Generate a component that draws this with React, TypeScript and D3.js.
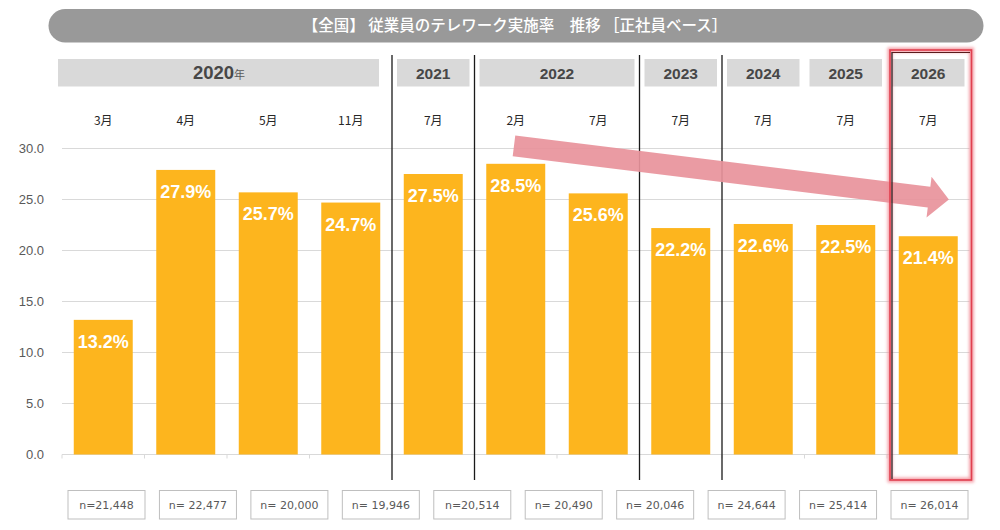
import * as d3 from "d3";

// survey periods (one bar each)
const periods = [
  "2020-03", "2020-04", "2020-05", "2020-11", "2021-07",
  "2022-02", "2022-07", "2023-07", "2024-07", "2025-07", "2026-07",
];
const monthLabels = ["3月", "4月", "5月", "11月", "7月", "2月", "7月", "7月", "7月", "7月", "7月"];
const rates = [13.2, 27.9, 25.7, 24.7, 27.5, 28.5, 25.6, 22.2, 22.6, 22.5, 21.4];

// year header groups
const years = ["2020", "2021", "2022", "2023", "2024", "2025", "2026"];
const yearSpans = [4, 1, 2, 1, 1, 1, 1];
const dividersBefore = ["2021-07", "2022-02", "2023-07", "2024-07"];
const highlightPeriod = "2026-07";

// sample sizes under the chart
const sampleSizes = [
  "n=21,448", "n= 22,477", "n= 20,000", "n= 19,946", "n=20,514",
  "n= 20,490", "n= 20,046", "n= 24,644", "n= 25,414", "n= 26,014",
];

const yTicks = [0, 5, 10, 15, 20, 25, 30];

const title = "【全国】 従業員のテレワーク実施率　推移 ［正社員ベース］";

const W = 1000;
const H = 530;
const plotLeft = 62;
const plotRight = 969.5;
const plotTop = 148.5;
const plotBottom = 454.5;
const jp = "'Noto Sans CJK JP', 'Noto Sans', sans-serif";
const latin = "'Liberation Sans', Arial, sans-serif";

export default function App() {
  const x = d3
    .scaleBand<string>()
    .domain(periods)
    .range([plotLeft, plotRight])
    .paddingInner(0.285)
    .paddingOuter(0.1425);
  const step = x.step();
  const gap = step * x.paddingInner();
  const bandStart = (p: string) => x(p)! - gap / 2;

  const y = d3.scaleLinear().domain([0, 30]).range([plotBottom, plotTop]);

  const nx = d3.scalePoint<string>().domain(sampleSizes).range([106.5, 929.5]);

  // year groups built from spans
  const starts = d3.cumsum([0, ...yearSpans.slice(0, -1)]);
  const groups = years.map((yr, i) => {
    const first = periods[starts[i]];
    const last = periods[starts[i] + yearSpans[i] - 1];
    return { yr, x0: bandStart(first), x1: bandStart(last) + step, wide: yearSpans[i] > 2 };
  });

  // trend arrow from 2022 peak to 2026
  const ax0 = x("2022-02")! + x.bandwidth() * 0.47;
  const ay0 = y(30.25);
  const ax1 = x("2026-07")! + x.bandwidth() * 0.85;
  const ay1 = y(25.0);
  const len = Math.hypot(ax1 - ax0, ay1 - ay0);
  const ang = (Math.atan2(ay1 - ay0, ax1 - ax0) * 180) / Math.PI;
  const sw = 10.5;
  const hw = 20.5;
  const hl = 20;
  const arrowPts = [
    [0, -sw], [len - hl, -sw], [len - hl, -hw], [len, 0],
    [len - hl, hw], [len - hl, sw], [0, sw],
  ]
    .map((p) => p.join(","))
    .join(" ");

  const hx0 = bandStart(highlightPeriod) + 3;
  const hx1 = bandStart(highlightPeriod) + step + 2;

  return (
    <div style={{ position: "absolute", left: 0, top: 0, background: "#fff" }}>
      <svg width={W} height={H} style={{ display: "block" }}>
        <defs>
          <filter id="glow" x="-20%" y="-5%" width="140%" height="110%">
            <feGaussianBlur stdDeviation="1.8" />
          </filter>
        </defs>
        <rect width={W} height={H} fill="#fff" />

        {/* title pill */}
        <rect x={48.5} y={9} width={935} height={33.5} rx={16.75} fill="#999999" />
        <text
          x={515}
          y={26}
          dy="0.35em"
          textAnchor="middle"
          fill="#fff"
          fontSize={15.5}
          fontWeight={500}
          fontFamily={jp}
          style={{ whiteSpace: "pre" }}
        >
          {title}
        </text>

        {/* year headers */}
        {groups.map((g) => (
          <g key={g.yr}>
            <rect
              x={g.x0 + (g.wide ? -4 : 5)}
              y={59}
              width={g.x1 - g.x0 - (g.wide ? 9 : 10)}
              height={27.5}
              fill="#d9d9d9"
            />
            <text
              x={(g.x0 + g.x1) / 2 + (g.wide ? -8 : 0)}
              y={73}
              dy="0.36em"
              textAnchor="middle"
              fill="#474747"
              fontFamily={latin}
            >
              <tspan fontSize={g.wide ? 18.5 : 15.5} fontWeight="bold">{g.yr}</tspan>
              {g.wide && (
                <tspan fontSize={11} fontFamily={jp} fill="#595959">年</tspan>
              )}
            </text>
          </g>
        ))}

        {/* month labels */}
        {periods.map((p, i) => (
          <text
            key={p}
            x={x(p)! + x.bandwidth() / 2}
            y={121}
            dy="0.35em"
            textAnchor="middle"
            fontSize={12}
            fill="#262626"
            fontFamily={jp}
          >
            {monthLabels[i]}
          </text>
        ))}

        {/* grid + y axis labels */}
        {yTicks.map((t) => (
          <g key={t}>
            <line x1={plotLeft} x2={plotRight} y1={y(t)} y2={y(t)} stroke="#d9d9d9" strokeWidth={1} />
            <text
              x={44}
              y={y(t)}
              dy="0.35em"
              textAnchor="end"
              fontSize={13}
              fill="#595959"
              fontFamily={latin}
            >
              {t.toFixed(1)}
            </text>
          </g>
        ))}
        {/* category tick marks */}
        {[...periods.map(bandStart), plotRight].map((tx, i) => (
          <line key={i} x1={tx} x2={tx} y1={plotBottom} y2={plotBottom + 4} stroke="#d9d9d9" />
        ))}

        {/* bars */}
        {periods.map((p, i) => (
          <rect
            key={p}
            x={x(p)}
            y={y(rates[i])}
            width={x.bandwidth()}
            height={y(0) - y(rates[i])}
            fill="#fdb51e"
          />
        ))}
        {periods.map((p, i) => (
          <text
            key={p}
            x={x(p)! + x.bandwidth() / 2}
            y={y(rates[i]) + 28}
            textAnchor="middle"
            fontSize={18}
            fontWeight="bold"
            fill="#fff"
            fontFamily={latin}
          >
            {rates[i].toFixed(1)}%
          </text>
        ))}

        {/* year dividers */}
        {dividersBefore.map((p) => (
          <line
            key={p}
            x1={bandStart(p)}
            x2={bandStart(p)}
            y1={55}
            y2={480}
            stroke="#1a1a1a"
            strokeWidth={1.3}
          />
        ))}

        {/* trend arrow */}
        <polygon
          points={arrowPts}
          transform={`translate(${ax0},${ay0}) rotate(${ang})`}
          fill="#e8939b"
          opacity={0.92}
        />

        {/* highlight box for 2026 */}
        <rect
          x={hx0}
          y={50}
          width={hx1 - hx0}
          height={430}
          fill="none"
          stroke="#f28a94"
          strokeWidth={5}
          filter="url(#glow)"
          opacity={0.8}
        />
        <rect x={hx0} y={50} width={hx1 - hx0} height={430} fill="none" stroke="#e0404f" strokeWidth={1.6} />
        <line x1={hx0 + 2} x2={hx0 + 2} y1={52} y2={479} stroke="#1a1a1a" strokeWidth={1.2} />
        <line x1={hx0 + 2} x2={hx1 - 1.5} y1={52.5} y2={52.5} stroke="#5a1a1a" strokeWidth={1} />

        {/* sample size boxes */}
        {sampleSizes.map((s) => (
          <g key={s}>
            <rect
              x={nx(s)! - 38.5}
              y={490.5}
              width={77}
              height={28.5}
              fill="#fff"
              stroke="#bfbfbf"
              strokeWidth={1}
            />
            <text
              x={nx(s)}
              y={505}
              dy="0.35em"
              textAnchor="middle"
              fontSize={11}
              fill="#595959"
              fontFamily="'DejaVu Sans', Verdana, sans-serif"
            >
              {s}
            </text>
          </g>
        ))}
      </svg>
    </div>
  );
}
